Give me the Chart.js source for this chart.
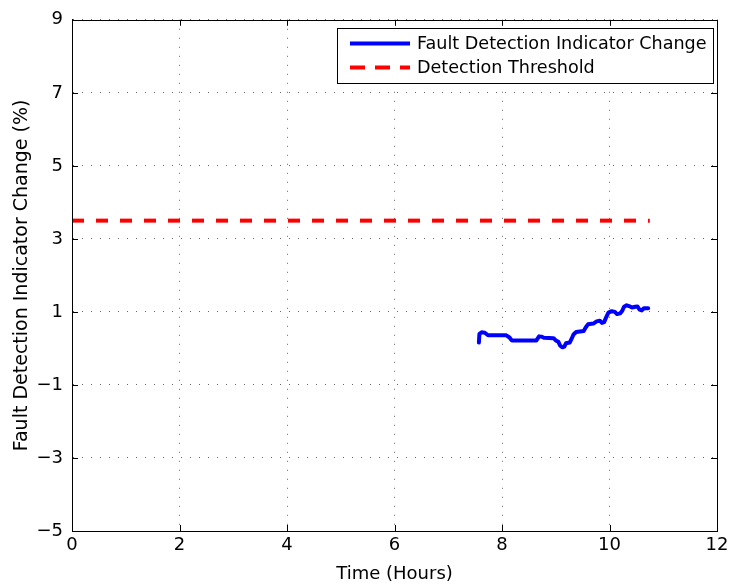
<!DOCTYPE html>
<html>
<head>
<meta charset="utf-8">
<script src="https://cdn.jsdelivr.net/npm/chart.js@4.4.1/dist/chart.umd.min.js"></script>
<style>
  html, body { margin: 0; padding: 0; background: #fff; }
  #wrap { width: 736px; height: 586px; position: relative; }
</style>
</head>
<body>
<div id="wrap"><canvas id="c" width="736" height="586"></canvas></div>
<script>
// ---- Data ----
const timeHours = [7.57, 7.58, 7.62, 7.68, 7.74, 8.08, 8.14, 8.18, 8.64, 8.69, 8.74, 8.78, 8.96, 9.00, 9.05, 9.08, 9.12, 9.16, 9.19, 9.26, 9.30, 9.33, 9.38, 9.52, 9.56, 9.60, 9.70, 9.76, 9.82, 9.86, 9.90, 9.94, 9.98, 10.04, 10.10, 10.14, 10.20, 10.24, 10.27, 10.32, 10.38, 10.42, 10.48, 10.52, 10.56, 10.60, 10.64, 10.72];
const indicatorChange = [0.16, 0.40, 0.44, 0.43, 0.36, 0.36, 0.30, 0.22, 0.22, 0.33, 0.32, 0.29, 0.28, 0.22, 0.18, 0.08, 0.03, 0.05, 0.14, 0.16, 0.28, 0.38, 0.45, 0.48, 0.58, 0.66, 0.68, 0.74, 0.76, 0.70, 0.72, 0.86, 0.98, 1.02, 1.00, 0.94, 0.96, 1.04, 1.14, 1.18, 1.15, 1.12, 1.14, 1.15, 1.06, 1.04, 1.10, 1.10];
const thresholdTime = [0, 10.75];
const thresholdValue = [3.5, 3.5];
const seriesLabels = ["Fault Detection Indicator Change", "Detection Threshold"];
const xTicks = [0, 2, 4, 6, 8, 10, 12];
const yTicks = [-5, -3, -1, 1, 3, 5, 7, 9];
const xTitle = "Time (Hours)";
const yTitle = "Fault Detection Indicator Change (%)";

const FONT = "'DejaVu Sans', 'Liberation Sans', Arial, sans-serif";
const FSIZE = 18;

const toPoints = (xs, ys) => xs.map((x, i) => ({ x: x, y: ys[i] }));

// Box, inward ticks and legend in MATLAB style
const matlabDecor = {
  id: 'matlabDecor',
  afterDatasetsDraw(chart) {
    const { ctx, chartArea: a, scales } = chart;
    ctx.save();
    ctx.strokeStyle = '#000';
    ctx.lineWidth = 1;
    ctx.setLineDash([]);
    const tl = 6;
    ctx.beginPath();
    xTicks.forEach(v => {
      const px = Math.round(scales.x.getPixelForValue(v)) + 0.5;
      ctx.moveTo(px, a.bottom); ctx.lineTo(px, a.bottom - tl);
      ctx.moveTo(px, a.top); ctx.lineTo(px, a.top + tl);
    });
    yTicks.forEach(v => {
      const py = Math.round(scales.y.getPixelForValue(v)) + 0.5;
      ctx.moveTo(a.left, py); ctx.lineTo(a.left + tl, py);
      ctx.moveTo(a.right, py); ctx.lineTo(a.right - tl, py);
    });
    ctx.stroke();
    ctx.strokeRect(Math.round(a.left) + 0.5, Math.round(a.top) + 0.5,
                   Math.round(a.right - a.left), Math.round(a.bottom - a.top));

    // legend
    const lx = 337, ly = 28, lw = 376, lh = 55;
    ctx.fillStyle = '#fff';
    ctx.fillRect(lx, ly, lw, lh);
    ctx.strokeRect(lx + 0.5, ly + 0.5, lw, lh);
    const rows = [43.5, 67.5];
    chart.data.datasets.forEach((ds, i) => {
      const y = rows[i];
      ctx.save();
      ctx.strokeStyle = ds.borderColor;
      ctx.lineWidth = ds.borderWidth;
      ctx.lineCap = 'butt';
      ctx.setLineDash(i === 1 ? [15, 10] : []);
      ctx.beginPath();
      ctx.moveTo(350, y); ctx.lineTo(410, y);
      ctx.stroke();
      ctx.restore();
      ctx.fillStyle = '#000';
      ctx.font = '17.6px ' + FONT;
      ctx.textBaseline = 'middle';
      ctx.textAlign = 'left';
      ctx.fillText(ds.label, 417, y + 0.5);
    });
    ctx.restore();
  }
};

const gridOpts = { color: 'rgba(0,0,0,0.6)', lineWidth: 1, drawTicks: false, tickLength: 0 };

new Chart(document.getElementById('c'), {
  type: 'scatter',
  data: {
    datasets: [
      {
        label: seriesLabels[0],
        data: toPoints(timeHours, indicatorChange),
        showLine: true,
        borderColor: '#0000ff',
        backgroundColor: '#0000ff',
        borderWidth: 4,
        pointRadius: 0,
        tension: 0,
        borderJoinStyle: 'round',
        borderCapStyle: 'round'
      },
      {
        label: seriesLabels[1],
        data: toPoints(thresholdTime, thresholdValue),
        showLine: true,
        borderColor: '#ff0000',
        backgroundColor: '#ff0000',
        borderWidth: 4,
        borderDash: [12, 12],
        pointRadius: 0,
        tension: 0
      }
    ]
  },
  options: {
    responsive: false,
    animation: false,
    devicePixelRatio: 1,
    layout: { padding: { left: 0, top: 17, right: 19, bottom: 0 } },
    plugins: { legend: { display: false }, tooltip: { enabled: false } },
    scales: {
      x: {
        type: 'linear',
        min: 0, max: 12,
        afterFit: s => { s.height = 55; },
        afterBuildTicks: s => { s.ticks = xTicks.map(v => ({ value: v })); },
        ticks: { color: '#000', font: { family: FONT, size: FSIZE }, padding: 4, maxRotation: 0 },
        grid: gridOpts,
        border: { display: true, color: '#000', width: 1, dash: [1, 8] },
        title: { display: true, text: xTitle, color: '#000', font: { family: FONT, size: FSIZE }, padding: { top: 0, bottom: 1 } }
      },
      y: {
        type: 'linear',
        min: -5, max: 9,
        afterFit: s => { s.width = 72; },
        afterBuildTicks: s => { s.ticks = yTicks.map(v => ({ value: v })); },
        ticks: {
          color: '#000', font: { family: FONT, size: FSIZE }, padding: 9,
          callback: v => String(v).replace('-', '\u2212')
        },
        grid: gridOpts,
        border: { display: true, color: '#000', width: 1, dash: [1, 8] },
        title: { display: true, text: yTitle, color: '#000', font: { family: FONT, size: 19 }, padding: { top: 11, bottom: 0 } }
      }
    }
  },
  plugins: [matlabDecor]
});
</script>
</body>
</html>
